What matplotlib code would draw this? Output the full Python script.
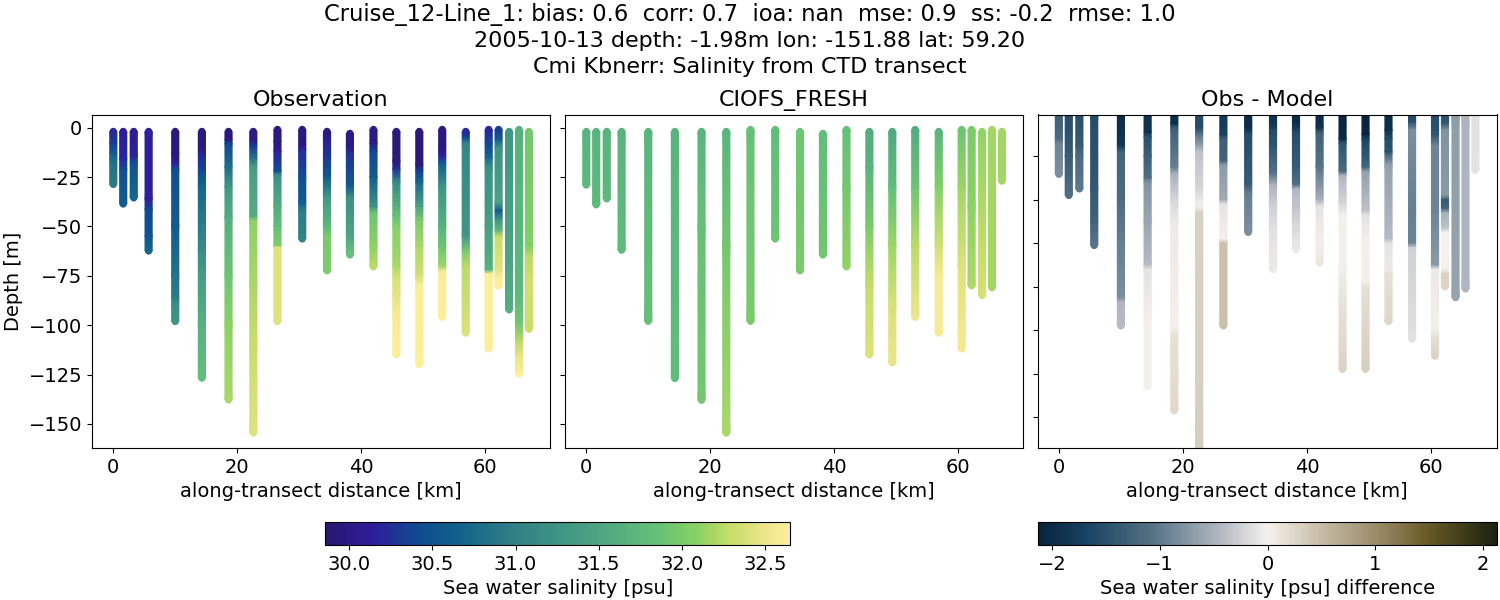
import numpy as np
import matplotlib
matplotlib.use('Agg')
import matplotlib.pyplot as plt
from matplotlib.colors import LinearSegmentedColormap, Normalize
from matplotlib.cm import ScalarMappable

# cast positions along the transect [km]
distance = [0, 1.6, 3.3, 5.7, 10, 14.3, 18.6, 22.6, 26.5, 30.5, 34.5,
            38.2, 42, 45.7, 49.4, 53.1, 56.9, 60.6, 62.2, 63.9, 65.5, 67.1]

# observed profiles, depth and salinity read at colour changes
obs_z = [
    [-1.9, -8, -13, -16, -28.7],
    [-1.9, -16, -21, -38.6],
    [-1.9, -14, -18, -35.5],
    [-1.9, -36, -41, -55, -62.4],
    [-1.9, -13, -18, -21, -50, -75, -86, -90, -98.1],
    [-1.9, -10, -14, -23, -30, -62, -73, -100, -126.8],
    [-1.9, -6, -8, -20, -30, -45, -75, -100, -137.8],
    [-1.9, -6, -9, -16, -20, -45, -47, -80, -110, -154.6],
    [-0.9, -7, -12, -22, -24, -40, -50, -60, -60.5, -98.1],
    [-0.9, -9, -11, -25, -38, -42, -56.3],
    [-1.9, -6, -15, -25, -35, -50, -55, -72.4],
    [-2.9, -10, -13, -30, -35, -55, -60, -64.4],
    [-0.9, -8, -12, -25, -40, -43, -60, -70.4],
    [-1.9, -17, -21, -27, -45, -50, -70, -75, -85, -95, -115],
    [-1.9, -19, -22, -27, -40, -47, -60, -75, -80, -119.9],
    [-0.9, -10, -14, -18, -30, -50, -60, -70, -73, -96],
    [-1.9, -5, -8, -55, -62, -70, -104],
    [-0.9, -8, -15, -20, -50, -72, -74, -112],
    [-0.9, -6, -10, -38, -42, -46, -52, -55, -72, -76, -80.2],
    [-1.9, -40, -70, -92.2],
    [-0.9, -85, -100, -108, -115, -124.8],
    [-1.9, -60, -65, -80, -102],
]
obs_salt = [
    [30.2, 30.35, 30.6, 30.8, 30.95],
    [30.1, 30.2, 30.45, 30.6],
    [30.1, 30.15, 30.5, 30.7],
    [30.15, 30.15, 30.4, 30.5, 30.7],
    [29.95, 29.95, 30.15, 30.45, 30.6, 30.85, 30.95, 31.2, 31.25],
    [29.95, 29.95, 30.2, 30.45, 30.7, 31.15, 31.35, 31.65, 31.8],
    [29.95, 29.95, 30.4, 30.8, 31.3, 31.6, 31.9, 32.1, 32.2],
    [30.0, 30.0, 30.3, 30.9, 31.4, 31.6, 32.1, 32.2, 32.3, 32.42],
    [29.95, 29.95, 30.15, 30.45, 31.2, 31.6, 31.8, 32.05, 32.42, 32.42],
    [29.95, 29.95, 30.2, 30.45, 30.6, 30.95, 31.05],
    [29.95, 30.1, 30.3, 30.6, 31.3, 31.75, 32.0, 32.0],
    [30.0, 30.0, 30.25, 30.6, 31.2, 31.5, 31.75, 31.85],
    [30.0, 30.0, 30.4, 30.6, 31.25, 31.9, 32.1, 32.25],
    [29.95, 29.95, 30.25, 31.1, 31.85, 32.05, 32.2, 32.35, 32.45, 32.6, 32.65],
    [29.95, 29.95, 30.35, 30.7, 31.45, 32.0, 32.2, 32.35, 32.62, 32.65],
    [29.95, 29.95, 30.15, 30.6, 31.25, 31.65, 31.9, 32.15, 32.62, 32.65],
    [30.2, 30.4, 31.1, 31.3, 31.95, 32.25, 32.4],
    [30.2, 30.4, 30.7, 31.2, 31.4, 31.65, 32.65, 32.65],
    [30.35, 30.6, 31.25, 31.45, 30.6, 31.2, 31.75, 32.3, 32.45, 32.65, 32.65],
    [31.3, 31.4, 31.5, 31.6],
    [31.65, 31.75, 31.95, 32.25, 32.45, 32.65],
    [31.95, 32.05, 32.25, 32.35, 32.3],
]

# model profiles
model_z = [
    [-1.9, -29],
    [-1.9, -39],
    [-1.9, -36],
    [-1.9, -62],
    [-1.9, -98],
    [-1.9, -127],
    [-1.9, -50, -138],
    [-1.9, -60, -154.6],
    [-0.9, -98],
    [-0.9, -56.3],
    [-1.9, -72.4],
    [-2.9, -64.4],
    [-0.9, -30, -70.4],
    [-1.9, -20, -50, -80, -115],
    [-1.9, -30, -60, -90, -119],
    [-0.9, -30, -60, -96],
    [-1.9, -30, -60, -75, -104],
    [-0.9, -30, -70, -112],
    [-0.9, -40, -80],
    [-1.9, -40, -85],
    [-0.9, -81],
    [-1.9, -27],
]
model_salt = [
    [31.68, 31.75],
    [31.68, 31.75],
    [31.68, 31.75],
    [31.7, 31.78],
    [31.7, 31.85],
    [31.68, 31.82],
    [31.7, 31.85, 31.95],
    [31.7, 31.95, 32.2],
    [31.85, 32.0],
    [31.82, 31.9],
    [31.9, 32.0],
    [31.82, 31.92],
    [31.85, 31.95, 32.12],
    [31.6, 31.7, 32.0, 32.28, 32.4],
    [31.55, 31.8, 32.15, 32.38, 32.48],
    [31.6, 31.9, 32.25, 32.5],
    [31.7, 32.05, 32.35, 32.58, 32.58],
    [31.9, 32.15, 32.4, 32.58],
    [32.0, 32.1, 32.22],
    [32.12, 32.22, 32.38],
    [32.18, 32.18],
    [32.18, 32.18],
]

# obs minus model
diff_z = [
    [-1, -12, -14, -28.3],
    [-1, -20, -38],
    [-1, -15, -20, -35],
    [-1, -35, -50, -55, -61],
    [-1, -15, -18, -40, -60, -85, -87, -98],
    [-1, -9, -11, -20, -30, -32, -50, -70, -72, -95, -126],
    [-1, -5, -7, -25, -28, -40, -50, -98, -103, -137],
    [-1, -7, -10, -15, -18, -35, -43, -46, -155],
    [-1, -10, -12, -22, -24, -40, -42, -58, -60, -98],
    [-1, -7, -10, -33, -37, -55],
    [-1, -6, -8, -15, -28, -33, -42, -54, -72],
    [-1, -5, -9, -25, -33, -35, -50, -57, -63],
    [-1, -7, -9, -25, -40, -43, -60, -69],
    [-1, -12, -14, -27, -29, -42, -47, -70, -85, -118],
    [-1, -10, -12, -25, -27, -45, -47, -60, -78, -80, -118],
    [-1, -8, -12, -18, -24, -58, -60, -72, -74, -96],
    [-1, -4, -8, -45, -60, -62, -104],
    [-1, -10, -15, -45, -70, -72, -100, -103, -112],
    [-1, -5, -8, -38, -40, -44, -46, -53, -55, -72, -74, -80],
    [-1, -85],
    [-1, -81],
    [-1, -26.4],
]
diff_salt = [
    [-1.3, -1.15, -0.9, -0.8],
    [-1.55, -1.35, -1.1],
    [-1.5, -1.35, -1.15, -1.0],
    [-1.55, -1.4, -1.25, -1.15, -1.05],
    [-2.0, -1.85, -1.25, -1.15, -0.95, -0.8, -0.45, -0.4],
    [-1.9, -1.9, -1.5, -1.3, -1.1, -0.75, -0.6, -0.4, -0.1, 0.03, 0.03],
    [-1.95, -1.95, -1.3, -0.95, -0.5, -0.2, -0.05, 0.03, 0.15, 0.22],
    [-1.55, -1.55, -1.05, -0.65, -0.35, -0.2, 0.0, 0.3, 0.33],
    [-1.8, -1.7, -1.3, -1.25, -0.7, -0.55, -0.1, 0.0, 0.45, 0.45],
    [-2.0, -2.0, -1.55, -1.35, -0.95, -0.8],
    [-1.9, -1.85, -1.55, -1.45, -1.05, -0.5, -0.25, -0.12, -0.05],
    [-2.05, -2.0, -1.55, -1.35, -1.1, -0.45, -0.22, -0.12, -0.05],
    [-2.0, -1.9, -1.3, -1.05, -0.5, -0.1, 0.03, 0.1],
    [-2.1, -2.05, -1.45, -1.15, -0.45, -0.2, 0.0, 0.03, 0.12, 0.27],
    [-2.1, -2.1, -1.65, -1.25, -0.65, -0.35, -0.1, 0.0, 0.03, 0.15, 0.32],
    [-2.0, -1.95, -1.55, -1.45, -0.65, -0.4, -0.1, -0.05, 0.15, 0.25],
    [-1.55, -1.55, -0.8, -0.95, -0.9, -0.25, -0.12],
    [-1.55, -1.45, -0.9, -0.9, -0.7, -0.05, 0.03, 0.15, 0.27],
    [-1.5, -1.4, -0.75, -0.7, -1.35, -1.25, -0.5, -0.35, 0.0, 0.0, 0.27, 0.27],
    [-0.68, -0.62],
    [-0.45, -0.45],
    [-0.13, -0.1],
]

salt_colors = [(0, '#2a186c'), (0.1, '#2d1e9b'), (0.2, '#0f4b91'), (0.3, '#14648c'),
               (0.4, '#2e7e87'), (0.5, '#3e9485'), (0.6, '#50a783'), (0.7, '#60be7a'),
               (0.8, '#88d164'), (0.875, '#c8de69'), (0.95, '#eee68c'), (1, '#fdee99')]
diff_colors = [(0, '#08243e'), (0.1, '#164160'), (0.25, '#557387'), (0.4, '#b4b9c3'),
               (0.5, '#f5f2ee'), (0.6, '#cdc3af'), (0.75, '#968764'), (0.85, '#695a28'),
               (1, '#1c210f')]
haline = LinearSegmentedColormap.from_list('haline_like', salt_colors)
balance = LinearSegmentedColormap.from_list('diff_like', diff_colors)
salt_norm = Normalize(29.856, 32.65)
diff_norm = Normalize(-2.128, 2.128)

plt.rcParams['font.size'] = 14


def draw_casts(ax, zs, vals, cmap, norm):
    for x, z, v in zip(distance, zs, vals):
        z = np.array(z)
        v = np.array(v)
        xx = np.array([[x - 0.58, x + 0.58]] * len(z))
        yy = np.column_stack([z, z])
        cc = np.column_stack([v, v])
        ax.pcolormesh(xx, yy, cc, shading='gouraud', cmap=cmap, norm=norm)
        # round ends of the cast
        ax.scatter([x, x], [z[0], z[-1]], c=[v[0], v[-1]], s=28, cmap=cmap,
                   norm=norm, linewidths=0)
    ax.set_xlim(-3.44, 70.5)
    ax.set_xticks([0, 20, 40, 60])
    ax.set_xlabel('along-transect distance [km]')


fig = plt.figure(figsize=(15, 6), dpi=100)
W, H = 1500.0, 600.0


def make_axes(x0, x1, y0, y1):
    return fig.add_axes([x0 / W, 1 - y1 / H, (x1 - x0) / W, (y1 - y0) / H])


ax1 = make_axes(92, 550, 114.5, 448)
ax2 = make_axes(565, 1023, 114.5, 448)
ax3 = make_axes(1037.5, 1496.5, 114.5, 448)

draw_casts(ax1, obs_z, obs_salt, haline, salt_norm)
draw_casts(ax2, model_z, model_salt, haline, salt_norm)
draw_casts(ax3, diff_z, diff_salt, balance, diff_norm)

ax1.set_ylim(-162.2, 6.7)
ax2.set_ylim(-162.2, 6.7)
ax3.set_ylim(-154.2, -0.8)
ax1.set_yticks([0, -25, -50, -75, -100, -125, -150])
ax2.set_yticks([0, -25, -50, -75, -100, -125, -150])
ax3.set_yticks([-20, -40, -60, -80, -100, -120, -140])
ax2.set_yticklabels([])
ax3.set_yticklabels([])
ax1.set_ylabel('Depth [m]')

ax1.set_title('Observation', fontsize=16)
ax2.set_title('CIOFS_FRESH', fontsize=16)
ax3.set_title('Obs - Model', fontsize=16)

fig.text(0.5, 1 - 14.5 / H,
         'Cruise_12-Line_1: bias: 0.6  corr: 0.7  ioa: nan  mse: 0.9  ss: -0.2  rmse: 1.0',
         ha='center', va='center', fontsize=16.25)
fig.text(0.5, 1 - 41 / H, '2005-10-13 depth: -1.98m lon: -151.88 lat: 59.20',
         ha='center', va='center', fontsize=16)
fig.text(0.5, 1 - 67 / H, 'Cmi Kbnerr: Salinity from CTD transect',
         ha='center', va='center', fontsize=16)

cax1 = make_axes(325.3, 790, 522.3, 545)
cb1 = fig.colorbar(ScalarMappable(norm=salt_norm, cmap=haline), cax=cax1, orientation='horizontal')
cb1.set_ticks([30, 30.5, 31, 31.5, 32, 32.5])
cb1.set_ticklabels(['30.0', '30.5', '31.0', '31.5', '32.0', '32.5'])
cb1.set_label('Sea water salinity [psu]')

cax2 = make_axes(1038.3, 1496.7, 522.3, 545)
cb2 = fig.colorbar(ScalarMappable(norm=diff_norm, cmap=balance), cax=cax2, orientation='horizontal')
cb2.set_ticks([-2, -1, 0, 1, 2])
cb2.set_label('Sea water salinity [psu] difference')

fig.savefig('out.png', dpi=100)
